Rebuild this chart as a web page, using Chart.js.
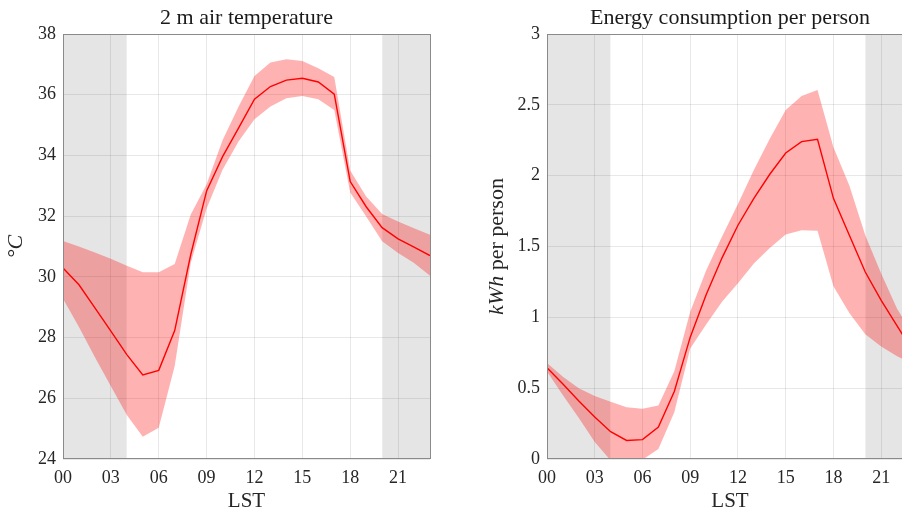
<!DOCTYPE html>
<html>
<head>
<meta charset="utf-8">
<script src="https://cdn.jsdelivr.net/npm/chart.js@4.4.1/dist/chart.umd.min.js"></script>
<style>
    html, body { margin: 0; padding: 0; background: #fff; }
    #figure { position: relative; width: 902px; height: 513px; overflow: hidden; background: #fff; }
    #figure canvas { position: absolute; top: 0; }
    #temp-chart { left: 0; }
    #energy-chart { left: 450px; }
</style>
</head>
<body>
<div id="figure">
    <canvas id="temp-chart" width="450" height="513"></canvas>
    <canvas id="energy-chart" width="480" height="513"></canvas>
</div>
<script>
const hours       = [0,1,2,3,4,5,6,7,8,9,10,11,12,13,14,15,16,17,18,19,20,21,22,23];
const xTicks      = [0,3,6,9,12,15,18,21];
const xTickLabels = ['00','03','06','09','12','15','18','21'];
const nightSpans  = [[0,4],[20,23]];

const tempMean = [30.29,29.74,28.98,28.21,27.44,26.77,26.92,28.23,30.72,32.83,33.96,34.90,35.85,36.27,36.48,36.54,36.42,36.02,33.14,32.31,31.62,31.25,30.98,30.70];
const tempLow  = [29.28,28.35,27.35,26.40,25.45,24.73,25.03,27.06,30.45,32.25,33.53,34.46,35.19,35.61,35.88,35.96,35.85,35.50,32.78,31.99,31.17,30.79,30.46,30.04];
const tempHigh = [31.18,31.00,30.80,30.60,30.37,30.15,30.15,30.42,32.05,33.05,34.50,35.60,36.62,37.06,37.17,37.11,36.87,36.58,33.50,32.65,32.07,31.82,31.60,31.39];
const tempTicks      = [24,26,28,30,32,34,36,38];
const tempTickLabels = ['24','26','28','30','32','34','36','38'];

const energyMean = [0.645,0.53,0.41,0.296,0.193,0.131,0.137,0.226,0.477,0.86,1.16,1.42,1.65,1.84,2.01,2.16,2.24,2.257,1.84,1.58,1.32,1.12,0.94,0.76];
const energyLow  = [0.618,0.45,0.29,0.12,-0.01,-0.06,-0.005,0.07,0.33,0.78,0.95,1.11,1.24,1.38,1.49,1.585,1.615,1.612,1.22,1.03,0.88,0.795,0.725,0.67];
const energyHigh = [0.677,0.58,0.50,0.445,0.405,0.366,0.354,0.377,0.62,1.04,1.33,1.57,1.80,2.04,2.26,2.463,2.562,2.605,2.20,1.93,1.58,1.31,1.06,0.88];
const energyTicks      = [0,0.5,1,1.5,2,2.5,3];
const energyTickLabels = ['0','0.5','1','1.5','2','2.5','3'];

const FONT = 'Liberation Serif';
const TEXT = '#262626';

const toPoints = vals => hours.map((h, i) => ({ x: h, y: vals[i] }));

// frame round the plot box (matlab "box on")
const framePlugin = {
    id: 'frame',
    afterDatasetsDraw(chart) {
        const { ctx, chartArea: a } = chart;
        ctx.save();
        ctx.strokeStyle = '#8a8a8a';
        ctx.lineWidth = 1;
        ctx.strokeRect(Math.round(a.left) + 0.5, Math.round(a.top) + 0.5,
                       Math.round(a.right - a.left), Math.round(a.bottom - a.top) - 1);
        ctx.restore();
    }
};

// rotated y label with mixed italic / upright parts
const yLabelPlugin = {
    id: 'yLabel',
    afterDraw(chart, args, opts) {
        if (!opts.parts) return;
        const { ctx, chartArea: a } = chart;
        ctx.save();
        ctx.translate(opts.x, (a.top + a.bottom) / 2);
        ctx.rotate(-Math.PI / 2);
        ctx.textBaseline = 'middle';
        ctx.textAlign = 'left';
        ctx.fillStyle = TEXT;
        const fonts = opts.parts.map(p => `${p.italic ? 'italic ' : ''}${opts.size}px "${FONT}"`);
        const widths = opts.parts.map((p, i) => { ctx.font = fonts[i]; return ctx.measureText(p.text).width; });
        let x = -widths.reduce((s, w) => s + w, 0) / 2;
        opts.parts.forEach((p, i) => {
            ctx.font = fonts[i];
            ctx.fillText(p.text, x, 0);
            x += widths[i];
        });
        ctx.restore();
    }
};

function makeChart(canvas, cfg) {
    const shade = nightSpans.map(([a, b]) => ({
        data: [{ x: a, y: cfg.yMax }, { x: b, y: cfg.yMax }],
        fill: 'start',
        backgroundColor: 'rgba(0,0,0,0.1)',
        borderWidth: 0,
        pointRadius: 0,
    }));

    return new Chart(canvas.getContext('2d'), {
        type: 'line',
        data: {
            datasets: [
                { data: toPoints(cfg.mean), borderColor: '#ff0000', borderWidth: 1.4, pointRadius: 0, fill: false },
                { data: toPoints(cfg.high), borderWidth: 0, pointRadius: 0, fill: '+1', backgroundColor: 'rgba(255,0,0,0.3)' },
                { data: toPoints(cfg.low),  borderWidth: 0, pointRadius: 0, fill: false },
                ...shade,
            ],
        },
        options: {
            responsive: false,
            animation: false,
            events: [],
            layout: { padding: { left: 0, right: cfg.padRight, top: 0, bottom: 0 } },
            plugins: {
                legend: { display: false },
                tooltip: { enabled: false },
                title: {
                    display: true,
                    text: cfg.title,
                    fullSize: false,
                    color: '#1a1a1a',
                    font: { family: FONT, size: 22, weight: 'normal', lineHeight: 1.2 },
                    padding: { top: 4.8, bottom: 2.8 },
                },
                yLabel: { x: cfg.yLabelX, size: 22, parts: cfg.yLabel },
            },
            scales: {
                x: {
                    type: 'linear',
                    min: 0, max: 23,
                    afterBuildTicks: s => { s.ticks = xTicks.map(v => ({ value: v })); },
                    afterFit: s => { s.height = 54; },
                    ticks: {
                        color: TEXT,
                        font: { family: FONT, size: 18 },
                        padding: 8.5,
                        maxRotation: 0,
                        callback: (v, i) => xTickLabels[i],
                    },
                    grid: { color: 'rgba(0,0,0,0.09)', drawTicks: false },
                    border: { display: false },
                    title: {
                        display: true,
                        text: 'LST',
                        color: TEXT,
                        font: { family: FONT, size: 21, lineHeight: 1.1 },
                        padding: { top: 0, bottom: 0 },
                    },
                },
                y: {
                    type: 'linear',
                    min: cfg.yMin, max: cfg.yMax,
                    afterBuildTicks: s => { s.ticks = cfg.yTicks.map(v => ({ value: v })); },
                    afterFit: s => { s.width = cfg.yAxisWidth; },
                    ticks: {
                        color: TEXT,
                        font: { family: FONT, size: 18 },
                        padding: 7,
                        callback: (v, i) => cfg.yTickLabels[i],
                    },
                    grid: { color: 'rgba(0,0,0,0.09)', drawTicks: false },
                    border: { display: false },
                },
            },
        },
        plugins: [framePlugin, yLabelPlugin],
    });
}

makeChart(document.getElementById('temp-chart'), {
    title: '2 m air temperature',
    mean: tempMean, low: tempLow, high: tempHigh,
    yMin: 24, yMax: 38, yTicks: tempTicks, yTickLabels: tempTickLabels,
    yAxisWidth: 63, padRight: 20, yLabelX: 16,
    yLabel: [{ text: '\u00b0C', italic: true }],
});

makeChart(document.getElementById('energy-chart'), {
    title: 'Energy consumption per person',
    mean: energyMean, low: energyLow, high: energyHigh,
    yMin: 0, yMax: 3, yTicks: energyTicks, yTickLabels: energyTickLabels,
    yAxisWidth: 97, padRight: 17, yLabelX: 47,
    yLabel: [{ text: 'kWh', italic: true }, { text: ' per person', italic: false }],
});
</script>
</body>
</html>
